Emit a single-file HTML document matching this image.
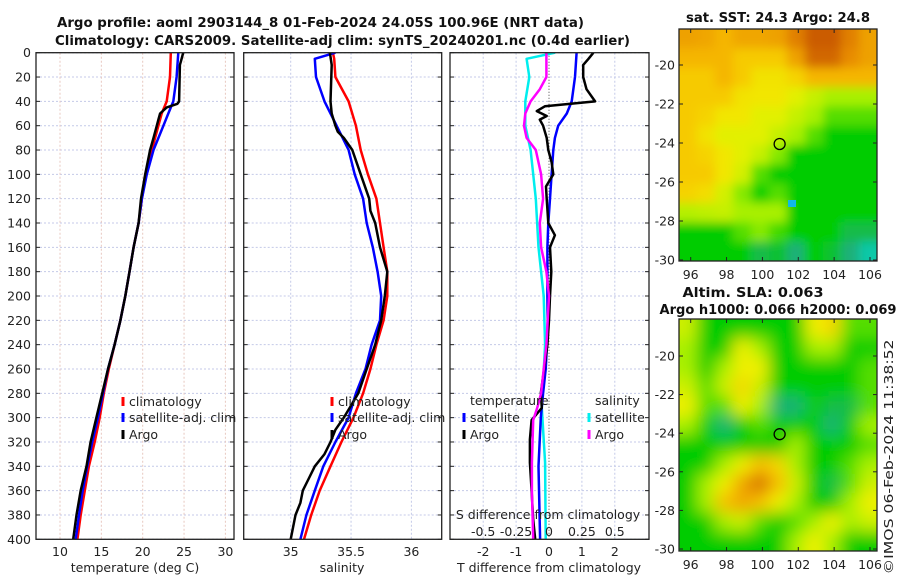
<!DOCTYPE html>
<html><head><meta charset="utf-8"><style>
html,body{margin:0;padding:0;background:#fff}
svg{display:block;font-family:"DejaVu Sans","Liberation Sans",sans-serif}
</style></head><body>
<svg id="c" width="900" height="580" viewBox="0 0 900 580" xmlns="http://www.w3.org/2000/svg">
<defs>
<clipPath id="cp1"><rect x="36" y="52.7" width="198" height="486.6"/></clipPath>
<clipPath id="cp2"><rect x="243.7" y="52.7" width="198" height="486.6"/></clipPath>
<clipPath id="cp3"><rect x="450" y="52.7" width="199" height="486.6"/></clipPath>
<clipPath id="cm1"><rect x="679" y="29" width="198" height="232"/></clipPath>
<clipPath id="cm2"><rect x="679" y="319" width="198" height="232"/></clipPath>
<filter id="b1" x="-10%" y="-10%" width="120%" height="120%"><feGaussianBlur stdDeviation="5"/></filter>
<filter id="b2" x="-10%" y="-10%" width="120%" height="120%"><feGaussianBlur stdDeviation="8"/></filter>
</defs>
<g id="root"></g>
</svg>
<script>
// ---------- data ----------
const depthTicks=[0,20,40,60,80,100,120,140,160,180,200,220,240,260,280,300,320,340,360,380,400];
const tTicks=[10,15,20,25,30];
const sTicks=[35,35.5,36];
const dTTicks=[-2,-1,0,1,2];
const dSTickLabels=["-0.5","-0.25","0","0.25","0.5"];
const dSTicks=[-0.5,-0.25,0,0.25,0.5];
const lonTicks=[96,98,100,102,104,106];
const latTicks=[-20,-22,-24,-26,-28,-30];

const tClimD=[0,20,40,50,60,80,100,120,140,160,180,200,220,240,260,280,300,320,340,360,380,400];
const tClim=[23.4,23.3,22.9,22.3,21.9,21.1,20.4,19.9,19.5,18.9,18.4,17.9,17.3,16.6,15.9,15.3,14.8,14.2,13.5,13.0,12.5,12.1];
const tSat=[24.3,24.1,23.7,23.1,22.5,21.3,20.5,19.9,19.5,18.9,18.4,17.9,17.3,16.6,15.8,15.2,14.6,13.9,13.3,12.75,12.3,11.9];
const tArgoD=[0,5,10,40,42,45,50,55,60,70,80,100,120,140,160,180,200,220,240,260,280,300,320,340,360,380,400];
const tArgo=[24.9,24.7,24.5,24.4,24.2,22.9,22.1,21.9,21.7,21.3,20.9,20.3,19.8,19.5,18.9,18.4,17.9,17.3,16.6,15.8,15.1,14.4,13.7,13.2,12.5,12.0,11.6];

const sClimD=[0,5,20,40,60,80,100,120,140,160,180,200,220,240,260,280,300,320,340,360,380,400];
const sClim=[35.35,35.36,35.37,35.48,35.54,35.58,35.64,35.71,35.74,35.77,35.8,35.8,35.77,35.71,35.66,35.6,35.52,35.42,35.33,35.24,35.17,35.11];
const sSat=[35.37,35.2,35.21,35.28,35.38,35.48,35.53,35.6,35.63,35.68,35.72,35.75,35.74,35.67,35.62,35.54,35.48,35.37,35.27,35.2,35.13,35.08];
const sArgoD=[0,10,40,50,60,65,70,80,100,120,130,140,160,180,200,220,240,260,280,290,300,310,320,330,340,350,360,370,380,390,400];
const sArgo=[35.325,35.34,35.33,35.34,35.37,35.39,35.44,35.51,35.58,35.65,35.66,35.7,35.74,35.8,35.78,35.75,35.7,35.63,35.56,35.5,35.44,35.37,35.33,35.28,35.2,35.15,35.1,35.08,35.04,35.02,35.0];

const dTSatD=[0,20,40,50,60,70,80,100,120,140,160,200,220,240,260,280,300,340,400];
const dTSat=[0.84,0.79,0.69,0.54,0.28,0.18,0.13,0.08,0.03,-0.02,-0.05,-0.05,-0.04,-0.06,-0.1,-0.18,-0.25,-0.32,-0.27];
const dTArgoD=[0,5,10,20,30,40,44,48,52,55,60,70,80,90,100,110,120,140,150,160,180,200,220,240,260,280,292,302,318,337,360,384,400];
const dTArgo=[1.35,1.2,1.04,1.04,1.14,1.4,-0.12,-0.37,-0.07,-0.28,-0.18,-0.07,-0.02,0.08,0.13,-0.09,-0.07,-0.02,0.18,0.03,0.07,0.03,0,-0.05,-0.15,-0.25,-0.22,-0.53,-0.58,-0.58,-0.53,-0.48,-0.42];
const dSSatD=[0,5,20,40,60,80,100,120,160,200,240,292,337,400];
const dSSat=[0.046,-0.17,-0.15,-0.18,-0.18,-0.14,-0.12,-0.1,-0.08,-0.04,-0.03,-0.055,-0.03,-0.025];
const dSArgoD=[0,10,20,30,40,50,60,70,80,100,120,140,160,180,200,240,280,292,302,337,360,400];
const dSArgo=[-0.02,-0.02,-0.02,-0.07,-0.14,-0.18,-0.19,-0.17,-0.1,-0.06,-0.045,-0.07,-0.06,-0.02,0,-0.02,-0.06,-0.09,-0.12,-0.13,-0.13,-0.12];

// map grids: rows from north (-18.6) to south (-29.6), 11 columns west->east
const sstGrid=[
[4.6,4.5,4.2,4.5,4.5,4.6,5.2,5.8,5.8,5.2,4.6],
[4.2,4.2,4.2,3.8,3.8,3.8,4.6,5.6,5.6,5.0,4.6],
[3.8,3.8,4.2,3.8,3.3,3.3,3.6,4.2,4.2,4.2,4.2],
[3.8,3.8,3.8,3.3,3.2,3.2,2.8,2.4,2,2,2],
[3.8,3.6,3.2,3.2,2.8,2.8,2.4,2,1.5,1.5,1.5],
[3.8,3.3,2.8,2.8,2.8,2.4,2,1.5,1,1,1],
[3.8,3.6,3.2,2.8,2.4,1.8,1,1,1,1,1],
[3.8,3.8,3.2,2.6,1.5,1,1,1,1,1,1],
[3.6,3.4,2.6,1.8,1.1,1.5,1,1,1,1,1],
[2.2,2.3,2.4,2,2,2,1,1,1,1,1],
[1,1,1,1.5,1.8,1.4,1,1,1,0.7,0.7],
[1,1,1,1,0.7,0.8,0.5,1,0.8,0.5,0.2]];
const slaGrid=[
[2.5,1,1,1,1,1,1,3,3.5,1.5,1.5],
[2,1,1,3,2,1,1,2,2,1,1],
[2,1,2,3,3,1,1,1,1,1,1.5],
[2.5,1.5,2.5,3.5,2.5,1,1,1,1,1,1.5],
[3,1.5,1.5,3,2,0.5,0.5,1,0.7,0.7,1.5],
[2,1,0.5,1,1.5,1,1,1,0.5,1,2],
[1,1,1,1,1,1,2,1,1,1,1.5],
[1,1,2,3,4,3.5,2,1,1,1.5,2],
[1,2,3,4.5,5.5,4,2.5,1,0.7,1.5,2.5],
[1,2,4,4.5,4,3,2,1,1,2,3],
[1,1,2,2.5,1.5,1,1.5,2,3,2,2.5],
[1,1,1,1,1,1,2,3,2,1,1]];
const argoLon=[100.96];
const argoLat=[-24.05];

// ---------- helpers ----------
const NS="http://www.w3.org/2000/svg";
const root=document.getElementById('root');
function mk(tag,attrs,parent){const e=document.createElementNS(NS,tag);for(const k in attrs)e.setAttribute(k,attrs[k]);(parent||root).appendChild(e);return e;}
const Y0=52.7,Y1=539.3,DK=(Y1-Y0)/400;
const yD=d=>Y0+d*DK;
const xT=v=>60+(v-10)*8.27;
const xS=v=>290.7+(v-35)*120.7;
const xDT=v=>549+v*32.9;
const xDS=v=>549+v*131.6;
const FS=12.5;

function panel(x0,x1,xTicks,xf,name,vgridColor){
  const g=mk('g',{});
  
  
  depthTicks.forEach(d=>{mk('line',{x1:x0,x2:x1,y1:yD(d),y2:yD(d),stroke:'#c4cae8','stroke-width':1,'stroke-dasharray':'2,2'},g);});
  xTicks.forEach(t=>{mk('line',{x1:xf(t),x2:xf(t),y1:Y0,y2:Y1,stroke:vgridColor,'stroke-width':1,'stroke-dasharray':'2,2'},g);});
  depthTicks.forEach(d=>{mk('line',{x1:x0,x2:x0+4,y1:yD(d),y2:yD(d),stroke:'#222'},g);mk('line',{x1:x1-4,x2:x1,y1:yD(d),y2:yD(d),stroke:'#222'},g);});
  return g;
}
function frame(x0,x1,name){const r=mk('rect',{x:x0,y:Y0,width:x1-x0,height:Y1-Y0,fill:'none',stroke:'#222','stroke-width':1.3});}
function line(ds,vs,xf,color,w,clip,name){
  let p='';ds.forEach((d,i)=>{p+=(i?'L':'M')+xf(vs[i]).toFixed(1)+','+yD(d).toFixed(1);});
  const e=mk('path',{d:p,fill:'none',stroke:color,'stroke-width':w,'stroke-linejoin':'round','clip-path':'url(#'+clip+')'});
  
  
}
function text(x,y,s,attrs,name){const t=mk('text',Object.assign({x:x,y:y,'font-size':FS,fill:'#222'},attrs||{}));t.textContent=s;return t;}
function legendEntry(x,y,color,label,name){
  const m=mk('line',{x1:x,x2:x,y1:y-9,y2:y,stroke:color,'stroke-width':3});
  
  text(x+6,y,label,{},name);
}

// ---------- titles ----------
text(57,27,'Argo profile: aoml 2903144_8 01-Feb-2024 24.05S 100.96E (NRT data)',{'font-weight':'bold','font-size':13,textLength:527,lengthAdjust:'spacingAndGlyphs',fill:'#111'},'title-line-1');
text(55,45,'Climatology: CARS2009. Satellite-adj clim: synTS_20240201.nc (0.4d earlier)',{'font-weight':'bold','font-size':13,textLength:575,lengthAdjust:'spacingAndGlyphs',fill:'#111'},'title-line-2');

// ---------- panel 1 temperature ----------
panel(36,234,tTicks,xT,'temperature-panel-grid','#e8c8c0');
depthTicks.forEach(d=>text(31,yD(d)+4.5,String(d),{'text-anchor':'end'},'depth-tick-'+d));
tTicks.forEach(t=>text(xT(t),556,String(t),{'text-anchor':'middle'},'temp-tick-'+t));
text(135,572,'temperature (deg C)',{'text-anchor':'middle'},'temperature-x-axis-title');
line(tClimD,tClim,xT,'#f00',2.5,'cp1','temp-climatology-line');
line(tClimD,tSat,xT,'#00f',2.5,'cp1','temp-satellite-line');
line(tArgoD,tArgo,xT,'#000',2.5,'cp1','temp-argo-line');
legendEntry(123,406,'#f00','climatology','temp-legend-climatology');
legendEntry(123,422,'#00f','satellite-adj. clim','temp-legend-satellite');
legendEntry(123,439,'#000','Argo','temp-legend-argo');
frame(36,234,'temperature-panel-frame');

// ---------- panel 2 salinity ----------
panel(243.7,441.7,sTicks,xS,'salinity-panel-grid','#c4cae8');
sTicks.forEach(t=>text(xS(t),556,String(t),{'text-anchor':'middle'},'sal-tick-'+t));
text(342,572,'salinity',{'text-anchor':'middle'},'salinity-x-axis-title');
line(sClimD,sClim,xS,'#f00',2.5,'cp2','sal-climatology-line');
line(sClimD,sSat,xS,'#00f',2.5,'cp2','sal-satellite-line');
line(sArgoD,sArgo,xS,'#000',2.5,'cp2','sal-argo-line');
legendEntry(332,406,'#f00','climatology','sal-legend-climatology');
legendEntry(332,422,'#00f','satellite-adj. clim','sal-legend-satellite');
legendEntry(332,439,'#000','Argo','sal-legend-argo');
frame(243.7,441.7,'salinity-panel-frame');

// ---------- panel 3 differences ----------
panel(450,649,[-2,-1,1,2],xDT,'difference-panel-grid','#c4cae8');
mk('line',{x1:549,x2:549,y1:Y0,y2:Y1,stroke:'#444','stroke-width':1,'stroke-dasharray':'1,2'});
dTTicks.forEach(t=>text(xDT(t),556,String(t),{'text-anchor':'middle'},'dT-tick-'+t));
text(549,572,'T difference from climatology',{'text-anchor':'middle'},'dT-x-axis-title');
line(dSSatD,dSSat,xDS,'#0ee','2.5','cp3','dS-satellite-line');
line(dTSatD,dTSat,xDT,'#00f',2.5,'cp3','dT-satellite-line');
line(dTArgoD,dTArgo,xDT,'#000',2.5,'cp3','dT-argo-line');
line(dSArgoD,dSArgo,xDS,'#f0f',2.5,'cp3','dS-argo-line');
text(470,405,'temperature',{},'dT-legend-title');
legendEntry(464,422,'#00f','satellite','dT-legend-satellite');
legendEntry(464,439,'#000','Argo','dT-legend-argo');
text(595,405,'salinity',{},'dS-legend-title');
legendEntry(589,422,'#0ee','satellite','dS-legend-satellite');
legendEntry(589,439,'#f0f','Argo','dS-legend-argo');
text(548,519,'S difference from climatology',{'text-anchor':'middle'},'dS-axis-title');
dSTicks.forEach((t,i)=>text(xDS(t),536,dSTickLabels[i],{'text-anchor':'middle'},'dS-tick-'+i));
frame(450,649,'difference-panel-frame');

// ---------- maps ----------
const MX0=679,MX1=877;
const xLon=v=>690.7+(v-96)*17.93;
const stops=[[0,[0,216,200]],[0.5,[30,176,120]],[1,[0,204,0]],[2,[168,240,0]],[3,[240,240,0]],[4,[248,192,0]],[5,[232,140,0]],[6,[196,80,0]]];
function col(v){for(let i=1;i<stops.length;i++){if(v<=stops[i][0]){const a=stops[i-1],b=stops[i],f=(v-a[0])/(b[0]-a[0]);const c=a[1].map((x,k)=>Math.round(x+(b[1][k]-x)*f));return 'rgb('+c.join(',')+')';}}return 'rgb(196,80,0)';}
function map(grid,my0,my1,yLat,clip,filt,name){
  const g=mk('g',{'clip-path':'url(#'+clip+')'});
  
  
  const inner=mk('g',{filter:'url(#'+filt+')'},g);
  const nr=grid.length,nc=grid[0].length,cw=(MX1-MX0)/nc,ch=(my1-my0)/nr;
  grid.forEach((row,r)=>row.forEach((v,c)=>{
    let x=MX0+c*cw,y=my0+r*ch,w=cw+0.6,h=ch+0.6;
    if(c===0){x-=25;w+=25;} if(c===nc-1){w+=25;}
    if(r===0){y-=25;h+=25;} if(r===nr-1){h+=25;}
    const cell=mk('rect',{x:x.toFixed(1),y:y.toFixed(1),width:w.toFixed(1),height:h.toFixed(1),fill:col(v)},inner);
    
    
  }));
  const fr=mk('rect',{x:MX0,y:my0,width:MX1-MX0,height:my1-my0,fill:'none',stroke:'#222','stroke-width':1.3});
  
  lonTicks.forEach(l=>{mk('line',{x1:xLon(l),x2:xLon(l),y1:my1,y2:my1-4,stroke:'#222'});mk('line',{x1:xLon(l),x2:xLon(l),y1:my0,y2:my0+4,stroke:'#222'});text(xLon(l),my1+18,String(l),{'text-anchor':'middle'},name+'-lon-tick-'+l);});
  latTicks.forEach(l=>{const y=yLat(l);mk('line',{x1:MX0,x2:MX0+4,y1:y,y2:y,stroke:'#222'});mk('line',{x1:MX1,x2:MX1-4,y1:y,y2:y,stroke:'#222'});text(675,y+4.5,String(l),{'text-anchor':'end'},name+'-lat-tick-'+l);});
  argoLon.forEach((lo,i)=>{const c=mk('circle',{cx:xLon(lo),cy:yLat(argoLat[i]),r:5.5,fill:'none',stroke:'#000','stroke-width':1.3});});
  return g;
}
const yLat1=v=>65+(-20-v)*19.5;
const yLat2=v=>356+(-20-v)*19.3;
map(sstGrid,29,261,yLat1,'cm1','b1','sst-map');
const sq=mk('rect',{x:788,y:200,width:8,height:7,fill:'#10b8e8'});

map(slaGrid,319,551,yLat2,'cm2','b2','sla-map');
text(778,22,'sat. SST: 24.3 Argo: 24.8',{'text-anchor':'middle','font-weight':'bold','font-size':13,textLength:184,lengthAdjust:'spacingAndGlyphs',fill:'#111'},'sst-map-title');
text(753,297,'Altim. SLA: 0.063',{'text-anchor':'middle','font-weight':'bold','font-size':13,textLength:141,lengthAdjust:'spacingAndGlyphs',fill:'#111'},'sla-map-title');
text(778,314,'Argo h1000: 0.066 h2000: 0.069',{'text-anchor':'middle','font-weight':'bold','font-size':13,textLength:237,lengthAdjust:'spacingAndGlyphs',fill:'#111'},'sla-map-subtitle');
text(0,0,'©IMOS 06-Feb-2024 11:38:52',{'text-anchor':'middle',transform:'translate(893,457) rotate(-90)',textLength:235,lengthAdjust:'spacingAndGlyphs'},'imos-timestamp');
</script>
</body></html>
